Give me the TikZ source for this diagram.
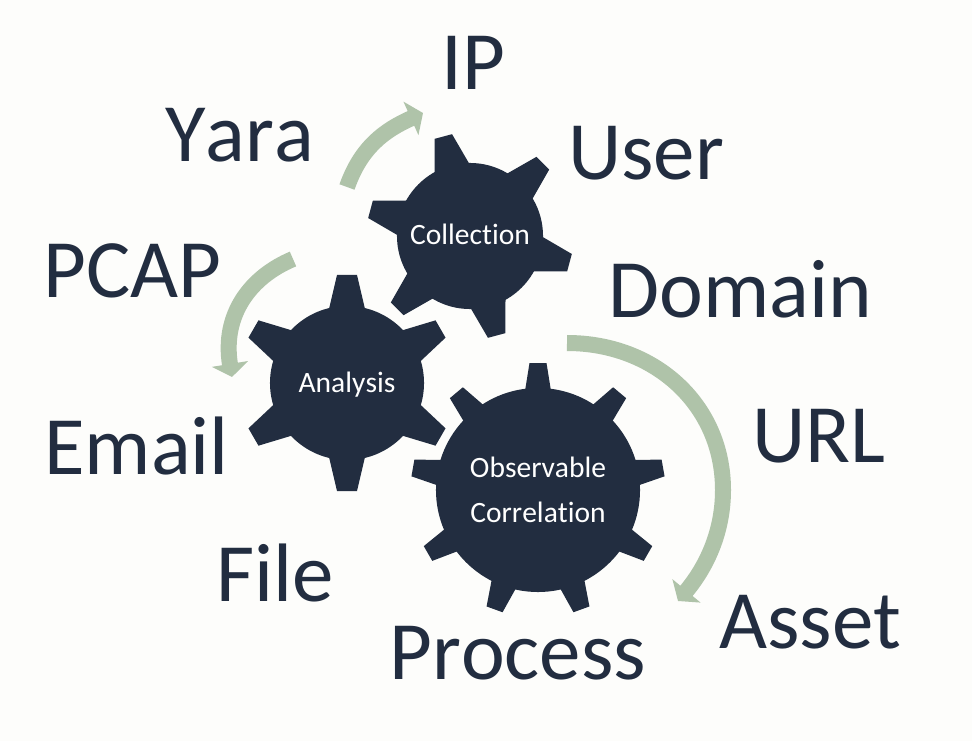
\documentclass[tikz,border=0pt]{standalone}
\usepackage{fontspec}
\setmainfont{Carlito}[Ligatures=NoCommon,Kerning=Off]
\usetikzlibrary{arrows.meta,positioning}
\definecolor{gearblue}{HTML}{222D40}
\definecolor{flowgreen}{HTML}{AFC3A9}
\definecolor{paperwhite}{HTML}{FDFDFB}
\begin{document}
\begin{tikzpicture}
  [
  x=0.025cm, y=-0.025cm,
  gearnode/.style={circle, inner sep=0pt, fill=gearblue, text=white, align=center},
  tooth/.style={fill=gearblue},
  itemnode/.style={anchor=base west, inner sep=0pt, text=gearblue, font=\fontsize{59}{60}\selectfont},
  flowarrow/.style={draw=flowgreen, line width=4mm, -{Triangle[length=3.3mm, width=9mm, fill=flowgreen]}},
  ]

  \useasboundingbox (0,0) rectangle (972,741);
  \fill[paperwhite] (0,0) rectangle (972,741);

  % gears
  \node[gearnode, minimum size=36.5mm, text height=11.4pt, text depth=0pt, font=\fontsize{21}{30}\selectfont] (collection) at (470,236) {Collection};
  \foreach \a in {105,165,...,405} {
    \fill[tooth, shift={(collection.center)}, rotate=\a] (70,-18) -- (103,-9) -- (103,9) -- (70,18) -- cycle;
  }

  \node[gearnode, minimum size=38.5mm, text height=14pt, text depth=1pt, font=\fontsize{21}{30}\selectfont] (analysis) at (347,383) {Analysis};
  \foreach \a in {90,150,...,390} {
    \fill[tooth, shift={(analysis.center)}, rotate=\a] (74,-18) -- (108,-10) -- (108,10) -- (74,18) -- cycle;
  }

  \node[gearnode, minimum size=51mm, font=\fontsize{21}{32}\selectfont] (correlation) at (538,490) {Observable\\Correlation};
  \foreach \a in {90,130,...,410} {
    \fill[tooth, shift={(correlation.center)}, rotate=\a] (99,-13) -- (127,-8.5) -- (127,8.5) -- (99,13) -- cycle;
  }

  % items
  \node[itemnode] (ip) at (441,90) {IP};
  \node[itemnode] (yara) at (165,162) {Yara};
  \node[itemnode] (user) at (568,180) {User};
  \node[itemnode] (pcap) at (43,298) {PCAP};
  \node[itemnode] (domain) at (608,317) {Domain};
  \node[itemnode] (url) at (752,462) {URL};
  \node[itemnode] (email) at (44,474) {Email};
  \node[itemnode] (file) at (216,601) {File};
  \node[itemnode] (process) at (389,679) {Process};
  \node[itemnode] (asset) at (719,648) {Asset};

  % arrows
  \coordinate (yaratail) at (347,187);
  \coordinate (iptip) at (423,113);
  \coordinate (pcaptail) at (293,259);
  \coordinate (emailtip) at (232,377);
  \coordinate (domaintail) at (567,343);
  \coordinate (urlbend) at (723,490);
  \coordinate (assettip) at (678,601);

  \draw[flowarrow] (yaratail) .. controls (361,147) and (385,130) .. (iptip);
  \draw[flowarrow] (pcaptail) .. controls (250,277) and (222,315) .. (emailtip);
  \draw[flowarrow] (domaintail) .. controls (655,343) and (723,405) .. (urlbend)
    .. controls (723,530) and (708,565) .. (assettip);
\end{tikzpicture}
\end{document}
